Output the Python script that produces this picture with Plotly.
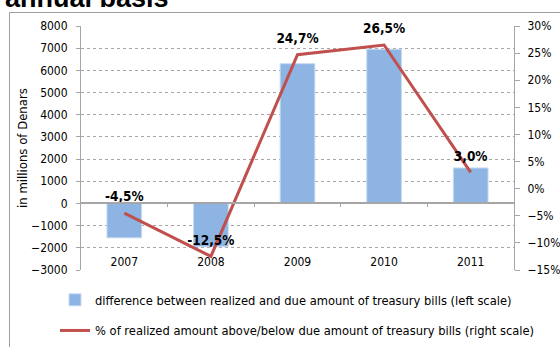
import plotly.graph_objects as go

years = ["2007", "2008", "2009", "2010", "2011"]
difference = [-1550, -1950, 6300, 6950, 1600]
pct = [-4.5, -12.5, 24.7, 26.5, 3.0]

bar_name = "difference between realized and due amount of treasury bills (left scale)"
line_name = "% of realized amount above/below due amount of treasury bills (right scale)"
y_title = "in millions of Denars"
title_text = "annual basis"

FONT = "Tahoma, 'DejaVu Sans Condensed', 'DejaVu Sans', sans-serif"

# plot-area pixel geometry
W, H = 560, 347
L, R, T, B = 81, 46, 26, 77
PW, PH = W - L - R, H - T - B

def fx(px):
    return (px - L) / PW

def fy(py):
    return (H - B - py) / PH

yl_range = [-3000, 8000]
yr_range = [-15, 30]

fig = go.Figure()
fig.add_trace(go.Bar(
    x=years, y=difference, name=bar_name, yaxis="y", xaxis="x",
    marker=dict(color="#8DB4E2", line=dict(color="#C6D9F1", width=1)),
    width=0.4, legendgroup="a",
))
fig.add_trace(go.Scatter(
    x=years, y=pct, name=line_name, yaxis="y2", xaxis="x",
    mode="lines+markers+text", line=dict(color="#C0504D", width=3),
    marker=dict(size=12, color="rgba(0,0,0,0)", line=dict(width=0)),
    texttemplate="%{y:.1f}%", textposition="top center",
    textfont=dict(family=FONT, size=13.5, color="black", weight="bold"),
    legendgroup="b", cliponaxis=False,
))

zero_pos = (0 - yl_range[0]) / (yl_range[1] - yl_range[0])

fig.update_layout(
    width=W, height=H,
    margin=dict(l=L, r=R, t=T, b=B, pad=0, autoexpand=False),
    paper_bgcolor="white", plot_bgcolor="white",
    separators=",.",
    font=dict(family=FONT, size=12, color="black"),
    showlegend=True,
    xaxis=dict(
        type="category", range=[-0.5, len(years) - 0.5],
        showline=False, ticks="", showgrid=False, zeroline=False,
        ticklabelstandoff=-17, tickfont=dict(size=12),
    ),
    xaxis2=dict(
        overlaying="x", anchor="free", position=zero_pos, side="bottom",
        range=[-0.5, len(years) - 0.5], type="linear",
        tickvals=[i + 0.5 for i in range(len(years) - 1)],
        showticklabels=False, ticks="outside", ticklen=3, tickcolor="#A6A6A6",
        showline=True, linecolor="#A6A6A6", linewidth=2, showgrid=False, zeroline=False,
    ),
    yaxis=dict(
        range=yl_range, dtick=1000, showline=True, linecolor="#A6A6A6", linewidth=1,
        ticks="outside", ticklen=4, tickcolor="#A6A6A6", ticklabelstandoff=6,
        showgrid=True, gridcolor="#A6A6A6", griddash="dot", gridwidth=1,
        zeroline=False, tickfont=dict(size=12),
    ),
    yaxis2=dict(
        range=yr_range, dtick=5, overlaying="y", side="right", anchor="x",
        ticksuffix="%", showline=True, linecolor="#A6A6A6", linewidth=1,
        ticks="outside", ticklen=5, tickcolor="#A6A6A6", ticklabelstandoff=5,
        showgrid=False, zeroline=False, tickfont=dict(size=12),
    ),
    legend=dict(
        xref="container", yref="container",
        x=55 / W, y=1 - 285 / H, xanchor="left", yanchor="top",
        orientation="v", traceorder="grouped", tracegroupgap=11,
        font=dict(size=12.8), bgcolor="rgba(0,0,0,0)",
    ),
    annotations=[
        dict(
            text=title_text, xref="paper", yref="paper",
            x=fx(3), y=fy(-2), xanchor="left", yanchor="middle",
            showarrow=False, font=dict(family="'Liberation Sans', Arial, sans-serif", size=27, color="black", weight="bold"),
        ),
        dict(
            text=y_title, xref="paper", yref="paper", textangle=-90,
            x=fx(22), y=fy(148), xanchor="center", yanchor="middle",
            showarrow=False, font=dict(size=13, color="black"),
        ),
    ],
    shapes=[dict(
        type="rect", xref="paper", yref="paper",
        x0=fx(9.5), x1=fx(590), y0=fy(380), y1=fy(12.5),
        line=dict(color="#A0A0A0", width=1), layer="below",
    )],
)

fig.add_trace(go.Scatter(x=[None], y=[None], xaxis="x2", yaxis="y", showlegend=False, hoverinfo="skip"))

fig.write_html(
    "out.html",
    config={"displayModeBar": False},
    post_script="document.body.style.margin='0';document.body.style.overflow='hidden';",
)
